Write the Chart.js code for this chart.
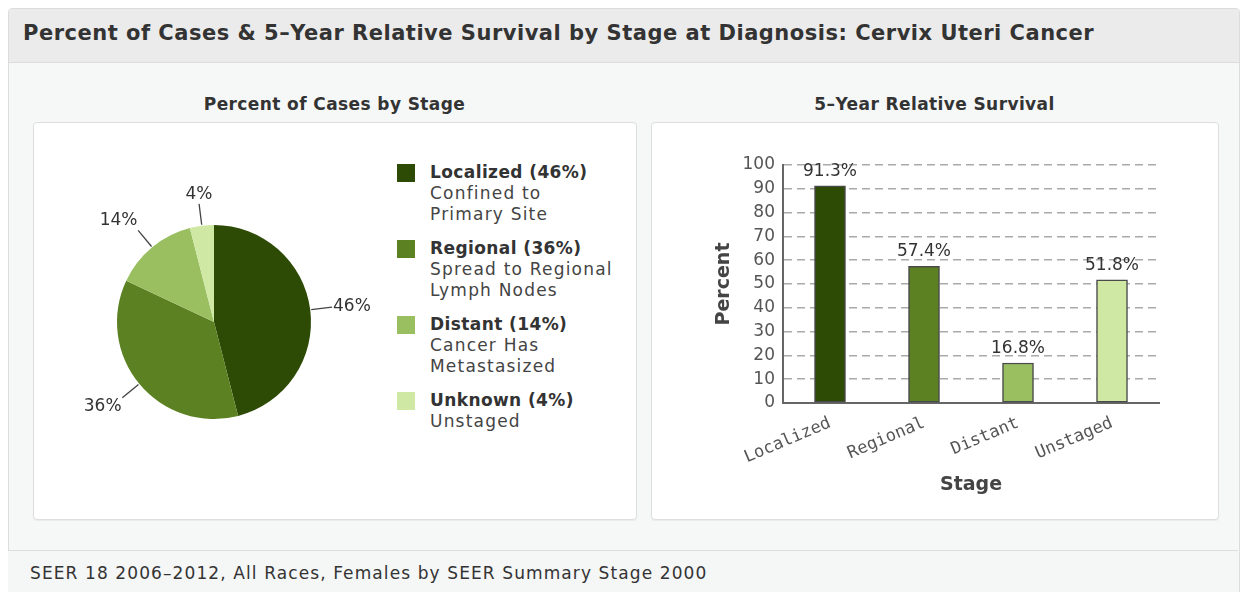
<!DOCTYPE html>
<html>
<head>
    <title>Cervix Uteri Cancer - Stage at Diagnosis</title>
    <script src="https://cdn.jsdelivr.net/npm/chart.js"></script>
    <style>
        body {
            margin: 0;
            background: #fff;
            font-family: "DejaVu Sans", sans-serif;
            color: #333;
        }
        #panel {
            position: absolute;
            left: 8px; top: 8px;
            width: 1230px; height: 600px;
            border: 1px solid #dcdcdc;
            border-radius: 4px;
            background: #f6f8f8;
            overflow: hidden;
        }
        #header {
            position: absolute;
            left: 0; top: 0; right: 0;
            height: 53px;
            background: #ebebeb;
            border-bottom: 1px solid #dcdcdc;
        }
        #header h1 {
            margin: 0;
            position: absolute;
            left: 14px; top: 12px;
            font-size: 21px;
            letter-spacing: 0.5px;
            font-weight: bold;
            color: #333;
            white-space: nowrap;
        }
        .subtitle {
            position: absolute;
            top: 94px;
            font-size: 17px;
            letter-spacing: 0.4px;
            font-weight: bold;
            color: #333;
            text-align: center;
        }
        .box {
            position: absolute;
            top: 122px;
            height: 396px;
            background: #fff;
            border: 1px solid #dedede;
            border-radius: 4px;
            box-shadow: 0 1px 1px rgba(0,0,0,0.05);
        }
        #footer {
            position: absolute;
            left: 8px; top: 550px;
            width: 1230px; height: 50px;
            border-top: 1px solid #dcdcdc;
            background: #f5f6f6;
        }
        #footer span {
            position: absolute;
            left: 22px; top: 12px;
            font-size: 17px;
            letter-spacing: 1.1px;
            color: #333;
            white-space: nowrap;
        }
        #legend {
            position: absolute;
            left: 397px; top: 162px;
            font-size: 17px;
            line-height: 21px;
            white-space: nowrap;
        }
        .item { position: relative; padding-left: 33px; margin-bottom: 13px; color: #444; letter-spacing: 1.2px; }
        .item b { color: #333; letter-spacing: 0.4px; }
        .swatch { position: absolute; left: 0; top: 2px; width: 18px; height: 18px; }
        canvas { position: absolute; }
    </style>
</head>
<body>
<div id="panel">
    <div id="header"><h1>Percent of Cases &amp; 5–Year Relative Survival by Stage at Diagnosis: Cervix Uteri Cancer</h1></div>
</div>
<div class="subtitle" style="left:33px; width:603px;">Percent of Cases by Stage</div>
<div class="subtitle" style="left:651px; width:567px;">5–Year Relative Survival</div>
<div class="box" style="left:33px; width:602px;"></div>
<div class="box" style="left:651px; width:566px;"></div>
<div id="footer"><span>SEER 18 2006–2012, All Races, Females by SEER Summary Stage 2000</span></div>

<div id="legend"></div>
<div style="position:absolute; left:40px; top:150px; width:360px; height:344px;"><canvas id="pieChart"></canvas></div>
<div style="position:absolute; left:651px; top:122px; width:567px; height:397px;"><canvas id="barChart"></canvas></div>

<script>
    // percent of cases by stage
    const pieStages = ['Localized', 'Regional', 'Distant', 'Unknown'];
    const pieDescriptions = ['Confined to|Primary Site', 'Spread to Regional|Lymph Nodes', 'Cancer Has|Metastasized', 'Unstaged'];
    const caseShare = [46, 36, 14, 4];

    // 5-year relative survival
    const barStages = ['Localized', 'Regional', 'Distant', 'Unstaged'];
    const survival = [91.3, 57.4, 16.8, 51.8];
    const yTicks = [0, 10, 20, 30, 40, 50, 60, 70, 80, 90, 100];

    const stageColors = ['#2e4b06', '#5b8122', '#9abf60', '#cfe8a3'];
    const FONT = "'DejaVu Sans', sans-serif";

    // html legend
    const legend = document.getElementById('legend');
    for (let i = 0; i < pieStages.length; i++) {
        const item = document.createElement('div');
        item.className = 'item';
        item.innerHTML = '<span class="swatch" style="background:' + stageColors[i] + '"></span>' +
            '<b>' + pieStages[i] + ' (' + caseShare[i] + '%)</b><br>' +
            pieDescriptions[i].split('|').join('<br>');
        legend.appendChild(item);
    }

    // labels with leader lines outside the pie
    const outsideLabels = {
        id: 'outsideLabels',
        afterDatasetsDraw(chart) {
            const ctx = chart.ctx;
            const meta = chart.getDatasetMeta(0);
            ctx.save();
            ctx.font = '17px ' + FONT;
            ctx.fillStyle = '#333';
            ctx.strokeStyle = '#444';
            ctx.lineWidth = 1.3;
            meta.data.forEach((arc, i) => {
                const mid = (arc.startAngle + arc.endAngle) / 2;
                const r = arc.outerRadius;
                const c = Math.cos(mid), s = Math.sin(mid);
                ctx.beginPath();
                ctx.moveTo(arc.x + c * (r + 1), arc.y + s * (r + 1));
                ctx.lineTo(arc.x + c * (r + 22), arc.y + s * (r + 22));
                ctx.stroke();
                const lr = r + 23;
                ctx.textAlign = c > 0.3 ? 'left' : (c < -0.3 ? 'right' : 'center');
                ctx.textBaseline = s > 0.3 ? 'top' : (s < -0.3 ? 'bottom' : 'middle');
                ctx.fillText(caseShare[i] + '%', arc.x + c * lr, arc.y + s * lr);
            });
            ctx.restore();
        }
    };

    new Chart(document.getElementById('pieChart'), {
        type: 'pie',
        data: {
            labels: pieStages,
            datasets: [{
                data: caseShare,
                backgroundColor: stageColors,
                borderWidth: 0
            }]
        },
        options: {
            responsive: true,
            maintainAspectRatio: false,
            animation: false,
            layout: { padding: { left: 77, right: 89, top: 75, bottom: 75 } },
            plugins: { legend: { display: false }, tooltip: { enabled: false } }
        },
        plugins: [outsideLabels]
    });

    // value labels above bars
    const barValues = {
        id: 'barValues',
        afterDatasetsDraw(chart) {
            const ctx = chart.ctx;
            const meta = chart.getDatasetMeta(0);
            ctx.save();
            ctx.font = '17px ' + FONT;
            ctx.fillStyle = '#333';
            ctx.textAlign = 'center';
            ctx.textBaseline = 'bottom';
            meta.data.forEach((bar, i) => {
                ctx.fillText(survival[i].toFixed(1) + '%', bar.x, bar.y - 6);
            });
            ctx.restore();
        }
    };

    new Chart(document.getElementById('barChart'), {
        type: 'bar',
        data: {
            labels: barStages,
            datasets: [{
                data: survival,
                backgroundColor: stageColors,
                borderColor: '#4a4a4a',
                borderWidth: 1.5,
                borderSkipped: false,
                barThickness: 31
            }]
        },
        options: {
            responsive: true,
            maintainAspectRatio: false,
            animation: false,
            layout: { padding: { left: 0, top: 43, right: 59, bottom: 0 } },
            plugins: { legend: { display: false }, tooltip: { enabled: false } },
            scales: {
                x: {
                    afterFit: axis => { axis.height = 116; },
                    grid: { display: false },
                    border: { color: '#666', width: 2 },
                    ticks: {
                        minRotation: 23,
                        maxRotation: 23,
                        padding: 2,
                        color: '#555',
                        font: { family: "'DejaVu Sans Mono', monospace", size: 17 }
                    },
                    title: {
                        display: true,
                        text: 'Stage',
                        color: '#444',
                        padding: { bottom: 23 },
                        font: { family: FONT, size: 19, weight: 'bold' }
                    }
                },
                y: {
                    min: 0,
                    max: 100,
                    afterBuildTicks: axis => { axis.ticks = yTicks.map(v => ({ value: v })); },
                    afterFit: axis => { axis.width = 132; },
                    grid: { color: '#aaa', lineWidth: 1.5, drawTicks: false },
                    border: { color: '#666', width: 2, dash: [8, 5] },
                    ticks: {
                        padding: 8,
                        color: '#555',
                        font: { family: FONT, size: 17 }
                    },
                    title: {
                        display: true,
                        text: 'Percent',
                        color: '#444',
                        padding: { top: 62 },
                        font: { family: FONT, size: 19, weight: 'bold' }
                    }
                }
            }
        },
        plugins: [barValues]
    });
</script>
</body>
</html>
